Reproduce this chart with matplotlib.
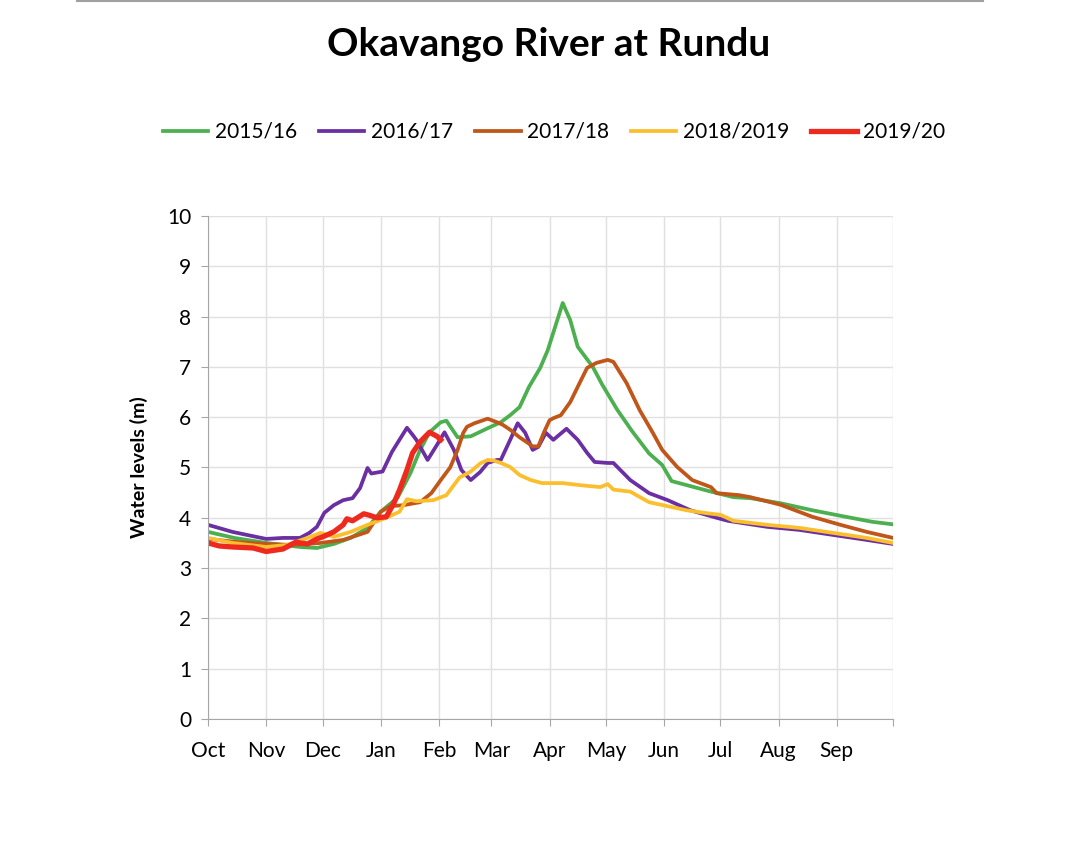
import matplotlib.pyplot as plt
from matplotlib.lines import Line2D

# day 0 = 1 October, levels in metres
months = ['Oct', 'Nov', 'Dec', 'Jan', 'Feb', 'Mar', 'Apr', 'May', 'Jun', 'Jul', 'Aug', 'Sep']
month_start = [0, 31, 61, 92, 123, 151, 182, 212, 243, 273, 304, 335, 365]

green_days = [0, 14, 31, 49, 58, 67, 76, 85, 92, 101, 108, 113, 118, 124, 127, 133, 140,
              149, 156, 161, 166, 171, 177, 181, 185, 189, 193, 197, 205, 210, 218, 226,
              235, 242, 247, 255, 267, 280, 289, 305, 322, 337, 354, 365]
green_vals = [3.72, 3.6, 3.5, 3.42, 3.40, 3.48, 3.6, 3.8, 4.12, 4.4, 4.9, 5.35, 5.7, 5.9,
              5.93, 5.6, 5.62, 5.78, 5.9, 6.04, 6.2, 6.6, 6.98, 7.33, 7.8, 8.27, 7.93, 7.4,
              7.0, 6.65, 6.15, 5.72, 5.28, 5.05, 4.73, 4.65, 4.53, 4.41, 4.39, 4.29, 4.15,
              4.04, 3.92, 3.87]

purple_days = [0, 13, 31, 40, 49, 54, 58, 62, 67, 72, 77, 81, 85, 87, 93, 98, 102, 106,
               109, 111, 117, 122, 126, 131, 135, 140, 145, 149, 154, 156, 161, 165, 169,
               173, 176, 180, 184, 191, 197, 202, 206, 213, 216, 225, 235, 245, 257, 271,
               277, 298, 315, 333, 351, 365]
purple_vals = [3.86, 3.72, 3.58, 3.6, 3.6, 3.7, 3.82, 4.1, 4.25, 4.35, 4.39, 4.59, 4.99,
               4.88, 4.92, 5.31, 5.55, 5.79, 5.65, 5.55, 5.15, 5.45, 5.7, 5.35, 4.95, 4.75,
               4.91, 5.09, 5.15, 5.15, 5.55, 5.88, 5.69, 5.35, 5.41, 5.69, 5.55, 5.77, 5.55,
               5.29, 5.11, 5.09, 5.09, 4.75, 4.49, 4.35, 4.15, 4.0, 3.94, 3.82, 3.76, 3.66,
               3.56, 3.48]

brown_days = [0, 15, 31, 45, 60, 72, 85, 92, 97, 104, 113, 119, 124, 129, 133, 136, 138,
              142, 149, 154, 157, 161, 166, 170, 173, 176, 179, 182, 184, 188, 193, 198,
              202, 207, 213, 216, 223, 230, 237, 242, 250, 258, 268, 271, 283, 289, 305,
              322, 337, 351, 365]
brown_vals = [3.58, 3.52, 3.48, 3.46, 3.5, 3.56, 3.72, 4.12, 4.23, 4.25, 4.31, 4.49, 4.75,
              5.0, 5.35, 5.69, 5.81, 5.88, 5.97, 5.9, 5.85, 5.75, 5.6, 5.5, 5.42, 5.42, 5.7,
              5.94, 5.98, 6.04, 6.3, 6.68, 6.98, 7.08, 7.14, 7.1, 6.68, 6.14, 5.69, 5.35,
              5.01, 4.75, 4.61, 4.49, 4.45, 4.41, 4.26, 4.02, 3.86, 3.72, 3.6]

yellow_days = [0, 13, 31, 42, 53, 60, 67, 76, 85, 95, 102, 106, 111, 120, 127, 131, 134,
               140, 145, 149, 152, 156, 161, 166, 172, 178, 189, 198, 209, 213, 216, 225,
               235, 245, 255, 266, 273, 280, 298, 315, 333, 351, 365]
yellow_vals = [3.6, 3.5, 3.42, 3.46, 3.6, 3.7, 3.62, 3.72, 3.86, 4.0, 4.12, 4.37, 4.33,
               4.35, 4.45, 4.65, 4.8, 4.92, 5.08, 5.15, 5.14, 5.09, 5.01, 4.85, 4.75, 4.69,
               4.69, 4.65, 4.61, 4.67, 4.56, 4.52, 4.31, 4.23, 4.15, 4.09, 4.06, 3.94,
               3.86, 3.8, 3.7, 3.6, 3.5]

red_days = [0, 6, 13, 24, 31, 40, 47, 49, 53, 58, 61, 67, 72, 74, 77, 83, 86, 90, 95, 99,
            102, 106, 109, 113, 118, 122, 124]
red_vals = [3.5, 3.44, 3.42, 3.4, 3.33, 3.38, 3.52, 3.5, 3.48, 3.58, 3.62, 3.72, 3.86,
            3.98, 3.94, 4.08, 4.05, 4.0, 4.02, 4.29, 4.55, 4.95, 5.29, 5.51, 5.7, 5.62, 5.55]

plt.rcParams['font.family'] = ['Lato', 'DejaVu Sans']

fig = plt.figure(figsize=(10.88, 8.57), dpi=100)
ax = fig.add_axes([0.1912, 0.161, 0.6296, 0.587])

ax.plot(green_days, green_vals, color='#4caf50', lw=2.7, label='2015/16')
ax.plot(purple_days, purple_vals, color='#6a2fa3', lw=2.7, label='2016/17')
ax.plot(brown_days, brown_vals, color='#c0561a', lw=2.7, label='2017/18')
ax.plot(yellow_days, yellow_vals, color='#fbbf2d', lw=2.7, label='2018/2019')
ax.plot(red_days, red_vals, color='#ee2a1e', lw=3.8, label='2019/20')

ax.set_xlim(0, 365)
ax.set_ylim(0, 10)
ax.set_xticks(month_start)
ax.set_xticklabels(months + [''])
ax.set_yticks(range(0, 11))
ax.grid(True, color='#e0e0e0', lw=1)
ax.set_axisbelow(True)
for side in ['top', 'right']:
    ax.spines[side].set_visible(False)
for side in ['left', 'bottom']:
    ax.spines[side].set_color('#a6a6a6')
ax.tick_params(axis='x', length=5, color='#a6a6a6', pad=11, labelsize=15)
ax.tick_params(axis='y', length=5, color='#a6a6a6', pad=7, labelsize=15)
ax.set_ylabel('Water levels (m)', fontsize=14, fontweight='bold', labelpad=14)

fig.text(0.504, 1 - 45 / 857, 'Okavango River at Rundu', ha='center', va='center',
         fontsize=28, fontweight='bold')
fig.legend(loc='center', bbox_to_anchor=(0.509, 0.846), ncol=5, frameon=False,
           fontsize=15, handlelength=2.2, handletextpad=0.3, columnspacing=1.05)
fig.add_artist(Line2D([0.0708, 0.9035], [0.999, 0.999], color='#a0a0a0', lw=1.5))

fig.savefig('out.png', dpi=100)
